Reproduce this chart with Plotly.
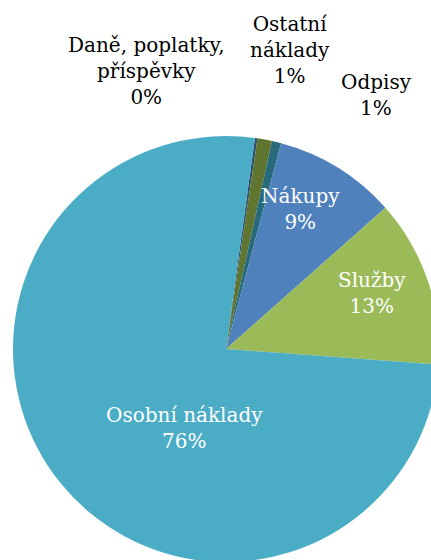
import plotly.graph_objects as go

categories = ["Daně, poplatky, příspěvky", "Ostatní náklady", "Odpisy", "Nákupy", "Služby", "Osobní náklady"]
shares = [0.2, 1.1, 0.7, 9.3, 12.7, 76.0]
pct_labels = ["0%", "1%", "1%", "9%", "13%", "76%"]
colors = ["#2C4D75", "#5F7530", "#276A7C", "#4F81BD", "#9BBB59", "#4BACC6"]

# how each category name is wrapped, and where its label sits (pixels from top-left)
wrapped = ["Daně, poplatky,<br>příspěvky", "Ostatní<br>náklady", "Odpisy", "Nákupy", "Služby", "Osobní náklady"]
label_pos = [(146, 71), (290, 50), (376, 95), (300, 209), (372, 293), (184, 428)]
label_color = ["black", "black", "black", "white", "white", "white"]

W, H = 452, 570
FONT = "DejaVu Serif"

fig = go.Figure(go.Pie(
    labels=categories,
    values=shares,
    textinfo="none",
    marker=dict(colors=colors, line=dict(width=0)),
    sort=False,
    direction="clockwise",
    rotation=7.8,
    showlegend=False,
    hoverinfo="label+percent",
    domain=dict(x=[13 / W, 439 / W], y=[(H - 562) / H, (H - 136) / H]),
))

for name, pct, (x, y), col in zip(wrapped, pct_labels, label_pos, label_color):
    fig.add_annotation(
        text=f"{name}<br>{pct}", x=x / W, y=1 - y / H, xref="paper", yref="paper",
        showarrow=False, xanchor="center", yanchor="middle",
        font=dict(family=FONT, size=20, color=col),
    )

fig.update_layout(
    width=W, height=H,
    margin=dict(l=0, r=0, t=0, b=0),
    font=dict(family=FONT, size=20),
    paper_bgcolor="white",
)

fig.write_html(
    "out.html",
    config={"displayModeBar": False},
    post_script="document.body.style.margin='0';document.body.style.overflow='hidden';",
)
